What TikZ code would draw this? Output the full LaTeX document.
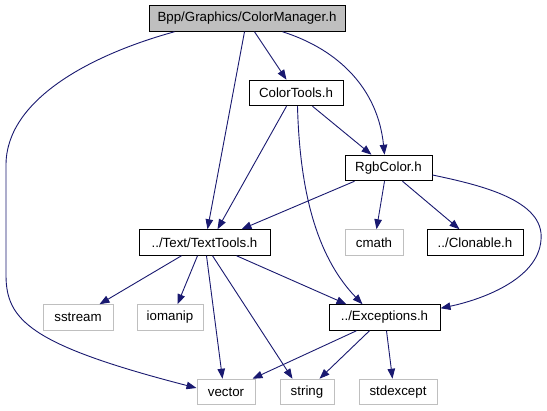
\documentclass[tikz,border=0pt]{standalone}
\usepackage{fontspec}
\setmainfont{Liberation Sans}
\usetikzlibrary{arrows.meta,calc}
\definecolor{edgeblue}{HTML}{191970}
\definecolor{sysgray}{HTML}{BFBFBF}
\definecolor{mainfill}{HTML}{BFBFBF}
\tikzset{
  box/.style={rectangle, draw=black, line width=1pt, minimum height=25.5pt, inner sep=0pt, font=\fontsize{13.3}{15}\selectfont},
  sysbox/.style={box, draw=sysgray},
  mainbox/.style={box, fill=mainfill},
  dep/.style={draw=edgeblue, line width=0.9pt, -{Triangle[length=10pt,width=7.5pt]}, fill=none},
}
\begin{document}
\begin{tikzpicture}[x=1pt,y=-1pt]
\useasboundingbox (0,0) rectangle (547,411);
\fill[white] (0,0) rectangle (547,411);
% nodes
\node[mainbox, minimum width=196pt] (cm) at (247,18.5) {Bpp/Graphics/ColorManager.h};
\node[box, minimum width=94pt] (ct) at (296,93) {ColorTools.h};
\node[box, minimum width=87pt] (rgb) at (388.5,168) {RgbColor.h};
\node[box, minimum width=131pt] (tt) at (204.5,242.5) {../Text/TextTools.h};
\node[sysbox, minimum width=58pt] (cmath) at (374,242.5) {cmath};
\node[box, minimum width=96pt] (clon) at (475,242.5) {../Clonable.h};
\node[sysbox, minimum width=70pt] (sstream) at (78,317.5) {sstream};
\node[sysbox, minimum width=66pt] (iomanip) at (170,317.5) {iomanip};
\node[box, minimum width=111pt] (exc) at (384.5,317.5) {../Exceptions.h};
\node[sysbox, minimum width=58pt] (vec) at (226,392) {vector};
\node[sysbox, minimum width=54pt] (str) at (307,392) {string};
\node[sysbox, minimum width=78pt] (stdex) at (398,392) {stdexcept};
% edges from ColorManager
\draw[dep] ($(cm.south west)+(26,0)$) .. controls (90,55) and (6,100) .. (6,165) -- (6,275) .. controls (6,320) and (30,345) .. ($(vec.west)+(0,-4)$);
\draw[dep] ($(cm.south west)+(96,0)$) -- ($(tt.north west)+(69,0)$);
\draw[dep] ($(cm.south west)+(106,0)$) -- ($(ct.north west)+(38,0)$);
\draw[dep] ($(cm.south west)+(134,0)$) .. controls (340,50) and (378,90) .. ($(rgb.north west)+(40,0)$);
% edges from ColorTools
\draw[dep] ($(ct.south west)+(38,0)$) -- ($(tt.north west)+(79,0)$);
\draw[dep] ($(ct.south west)+(49,0)$) .. controls (300,200) and (320,260) .. ($(exc.north west)+(34,0)$);
\draw[dep] ($(ct.south west)+(64,0)$) -- ($(rgb.north west)+(27,0)$);
% edges from RgbColor
\draw[dep] ($(rgb.south west)+(10,0)$) -- ($(tt.north west)+(103,0)$);
\draw[dep] ($(rgb.south west)+(40,0)$) -- ($(cmath.north west)+(32,0)$);
\draw[dep] ($(rgb.south west)+(58,0)$) -- ($(clon.north west)+(33,0)$);
\draw[dep] ($(rgb.east)+(0,7)$) .. controls (480,185) and (545,200) .. (541,240) .. controls (538,280) and (480,300) .. ($(exc.north east)+(0,4)$);
% edges from TextTools
\draw[dep] ($(tt.south west)+(43,0)$) -- ($(sstream.north west)+(57,0)$);
\draw[dep] ($(tt.south west)+(59,0)$) -- ($(iomanip.north west)+(41,0)$);
\draw[dep] ($(tt.south west)+(68,0)$) -- ($(vec.north west)+(26,0)$);
\draw[dep] ($(tt.south west)+(74,0)$) -- ($(str.north west)+(13,0)$);
\draw[dep] ($(tt.south west)+(98,0)$) -- ($(exc.north west)+(18,0)$);
% edges from Exceptions
\draw[dep] ($(exc.south west)+(28,0)$) -- ($(vec.north west)+(56,0)$);
\draw[dep] ($(exc.south west)+(41,0)$) -- ($(str.north west)+(40,0)$);
\draw[dep] ($(exc.south west)+(58,0)$) -- ($(stdex.north west)+(34,0)$);
\end{tikzpicture}
\end{document}
